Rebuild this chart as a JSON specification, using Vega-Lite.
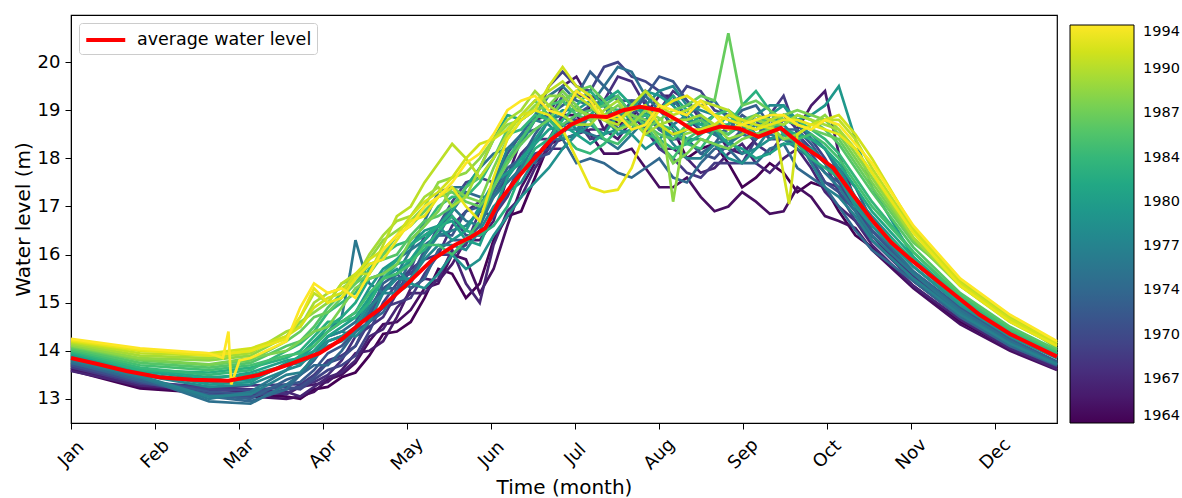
{
"$schema": "https://vega.github.io/schema/vega-lite/v6.json",
"width": 986, "height": 408,
"autosize": {"type": "none"},
"padding": {"left": 71, "top": 15, "right": 125, "bottom": 75},
"config": {"font": "DejaVu Sans", "view": {"stroke": "black", "strokeWidth": 1.2},
 "axis": {"grid": false, "domainColor": "black", "tickColor": "black", "labelColor": "black", "titleColor": "black", "tickSize": 6, "labelFontSize": 18, "titleFontSize": 20, "titleFontWeight": "normal"}},
"datasets": {
"years": [
{"yr":1964,"d":0,"h":13.60},{"yr":1964,"d":25,"h":13.22},{"yr":1964,"d":50,"h":13.12},{"yr":1964,"d":65,"h":13.10},{"yr":1964,"d":78,"h":13.05},{"yr":1964,"d":88,"h":13.20},{"yr":1964,"d":98,"h":13.45},{"yr":1964,"d":108,"h":13.90},{"yr":1964,"d":118,"h":14.40},{"yr":1964,"d":128,"h":15.10},{"yr":1964,"d":138,"h":15.60},{"yr":1964,"d":148,"h":15.40},{"yr":1964,"d":158,"h":16.80},{"yr":1964,"d":168,"h":17.60},{"yr":1964,"d":178,"h":18.40},{"yr":1964,"d":188,"h":19.10},{"yr":1964,"d":198,"h":18.70},{"yr":1964,"d":208,"h":19.40},{"yr":1964,"d":218,"h":18.60},{"yr":1964,"d":228,"h":18.20},{"yr":1964,"d":238,"h":17.90},{"yr":1964,"d":248,"h":17.60},{"yr":1964,"d":258,"h":17.70},{"yr":1964,"d":268,"h":17.50},{"yr":1964,"d":278,"h":16.90},{"yr":1964,"d":290,"h":16.15},{"yr":1964,"d":305,"h":15.35},{"yr":1964,"d":322,"h":14.60},{"yr":1964,"d":340,"h":14.05},{"yr":1964,"d":357,"h":13.62},
{"yr":1964,"d":83,"h":13.00},{"yr":1964,"d":93,"h":13.25},{"yr":1964,"d":103,"h":13.55},{"yr":1964,"d":113,"h":14.35},{"yr":1964,"d":123,"h":14.60},{"yr":1964,"d":133,"h":15.70},{"yr":1964,"d":143,"h":15.10},{"yr":1964,"d":153,"h":16.30},{"yr":1964,"d":163,"h":16.90},{"yr":1964,"d":173,"h":18.30},{"yr":1964,"d":183,"h":18.50},{"yr":1964,"d":193,"h":19.20},{"yr":1964,"d":203,"h":18.80},{"yr":1964,"d":213,"h":19.10},{"yr":1964,"d":223,"h":18.00},{"yr":1964,"d":233,"h":18.30},{"yr":1964,"d":243,"h":17.40},{"yr":1964,"d":253,"h":17.90},{"yr":1964,"d":263,"h":17.30},{"yr":1964,"d":273,"h":17.40},{"yr":1964,"d":284,"h":16.40},
{"yr":1965,"d":0,"h":13.62},{"yr":1965,"d":25,"h":13.25},{"yr":1965,"d":50,"h":13.15},{"yr":1965,"d":65,"h":13.05},{"yr":1965,"d":78,"h":13.00},{"yr":1965,"d":88,"h":13.15},{"yr":1965,"d":98,"h":13.50},{"yr":1965,"d":108,"h":14.20},{"yr":1965,"d":118,"h":14.60},{"yr":1965,"d":128,"h":15.30},{"yr":1965,"d":138,"h":16.00},{"yr":1965,"d":148,"h":15.20},{"yr":1965,"d":158,"h":16.60},{"yr":1965,"d":168,"h":17.90},{"yr":1965,"d":178,"h":18.90},{"yr":1965,"d":188,"h":18.50},{"yr":1965,"d":198,"h":18.10},{"yr":1965,"d":208,"h":17.80},{"yr":1965,"d":218,"h":17.40},{"yr":1965,"d":228,"h":17.20},{"yr":1965,"d":238,"h":17.00},{"yr":1965,"d":248,"h":17.10},{"yr":1965,"d":258,"h":16.90},{"yr":1965,"d":268,"h":17.20},{"yr":1965,"d":278,"h":16.70},{"yr":1965,"d":290,"h":16.10},{"yr":1965,"d":305,"h":15.30},{"yr":1965,"d":322,"h":14.55},{"yr":1965,"d":340,"h":14.00},{"yr":1965,"d":357,"h":13.60},
{"yr":1965,"d":83,"h":13.05},{"yr":1965,"d":93,"h":13.40},{"yr":1965,"d":103,"h":13.75},{"yr":1965,"d":113,"h":14.55},{"yr":1965,"d":123,"h":14.85},{"yr":1965,"d":133,"h":15.40},{"yr":1965,"d":143,"h":15.90},{"yr":1965,"d":153,"h":15.70},{"yr":1965,"d":163,"h":17.40},{"yr":1965,"d":173,"h":18.20},{"yr":1965,"d":183,"h":18.90},{"yr":1965,"d":193,"h":18.10},{"yr":1965,"d":203,"h":18.20},{"yr":1965,"d":213,"h":17.40},{"yr":1965,"d":223,"h":17.60},{"yr":1965,"d":233,"h":16.90},{"yr":1965,"d":243,"h":17.30},{"yr":1965,"d":253,"h":16.85},{"yr":1965,"d":263,"h":17.40},{"yr":1965,"d":273,"h":16.80},{"yr":1965,"d":284,"h":16.55},
{"yr":1966,"d":0,"h":13.65},{"yr":1966,"d":25,"h":13.30},{"yr":1966,"d":50,"h":13.20},{"yr":1966,"d":65,"h":13.15},{"yr":1966,"d":78,"h":13.10},{"yr":1966,"d":88,"h":13.30},{"yr":1966,"d":98,"h":13.60},{"yr":1966,"d":108,"h":14.00},{"yr":1966,"d":118,"h":14.70},{"yr":1966,"d":128,"h":15.50},{"yr":1966,"d":138,"h":15.80},{"yr":1966,"d":148,"h":16.30},{"yr":1966,"d":158,"h":17.60},{"yr":1966,"d":168,"h":18.80},{"yr":1966,"d":178,"h":19.50},{"yr":1966,"d":188,"h":19.20},{"yr":1966,"d":198,"h":18.40},{"yr":1966,"d":208,"h":18.90},{"yr":1966,"d":218,"h":19.30},{"yr":1966,"d":228,"h":18.60},{"yr":1966,"d":238,"h":18.20},{"yr":1966,"d":248,"h":18.40},{"yr":1966,"d":258,"h":18.90},{"yr":1966,"d":268,"h":19.10},{"yr":1966,"d":278,"h":18.10},{"yr":1966,"d":290,"h":16.40},{"yr":1966,"d":305,"h":15.45},{"yr":1966,"d":322,"h":14.70},{"yr":1966,"d":340,"h":14.10},{"yr":1966,"d":357,"h":13.65},
{"yr":1966,"d":83,"h":13.25},{"yr":1966,"d":93,"h":13.35},{"yr":1966,"d":103,"h":13.95},{"yr":1966,"d":113,"h":14.20},{"yr":1966,"d":123,"h":15.30},{"yr":1966,"d":133,"h":15.45},{"yr":1966,"d":143,"h":16.30},{"yr":1966,"d":153,"h":16.70},{"yr":1966,"d":163,"h":18.40},{"yr":1966,"d":173,"h":18.90},{"yr":1966,"d":183,"h":19.70},{"yr":1966,"d":193,"h":18.60},{"yr":1966,"d":203,"h":18.80},{"yr":1966,"d":213,"h":19.30},{"yr":1966,"d":223,"h":18.80},{"yr":1966,"d":233,"h":18.60},{"yr":1966,"d":243,"h":18.10},{"yr":1966,"d":253,"h":18.80},{"yr":1966,"d":263,"h":18.60},{"yr":1966,"d":273,"h":19.40},{"yr":1966,"d":284,"h":17.10},
{"yr":1967,"d":0,"h":13.58},{"yr":1967,"d":25,"h":13.28},{"yr":1967,"d":50,"h":13.18},{"yr":1967,"d":65,"h":13.20},{"yr":1967,"d":78,"h":13.15},{"yr":1967,"d":88,"h":13.25},{"yr":1967,"d":98,"h":13.55},{"yr":1967,"d":108,"h":14.30},{"yr":1967,"d":118,"h":14.90},{"yr":1967,"d":128,"h":15.20},{"yr":1967,"d":138,"h":16.10},{"yr":1967,"d":148,"h":15.00},{"yr":1967,"d":158,"h":16.90},{"yr":1967,"d":168,"h":17.80},{"yr":1967,"d":178,"h":18.20},{"yr":1967,"d":188,"h":18.60},{"yr":1967,"d":198,"h":19.00},{"yr":1967,"d":208,"h":18.60},{"yr":1967,"d":218,"h":18.20},{"yr":1967,"d":228,"h":17.70},{"yr":1967,"d":238,"h":18.10},{"yr":1967,"d":248,"h":17.90},{"yr":1967,"d":258,"h":18.00},{"yr":1967,"d":268,"h":17.80},{"yr":1967,"d":278,"h":17.00},{"yr":1967,"d":290,"h":16.20},{"yr":1967,"d":305,"h":15.35},{"yr":1967,"d":322,"h":14.65},{"yr":1967,"d":340,"h":14.05},{"yr":1967,"d":357,"h":13.62},
{"yr":1967,"d":83,"h":13.05},{"yr":1967,"d":93,"h":13.45},{"yr":1967,"d":103,"h":13.80},{"yr":1967,"d":113,"h":14.45},{"yr":1967,"d":123,"h":15.20},{"yr":1967,"d":133,"h":15.50},{"yr":1967,"d":143,"h":15.40},{"yr":1967,"d":153,"h":16.20},{"yr":1967,"d":163,"h":17.20},{"yr":1967,"d":173,"h":18.20},{"yr":1967,"d":183,"h":18.50},{"yr":1967,"d":193,"h":18.60},{"yr":1967,"d":203,"h":18.90},{"yr":1967,"d":213,"h":18.20},{"yr":1967,"d":223,"h":18.00},{"yr":1967,"d":233,"h":17.80},{"yr":1967,"d":243,"h":18.30},{"yr":1967,"d":253,"h":17.70},{"yr":1967,"d":263,"h":18.20},{"yr":1967,"d":273,"h":17.30},{"yr":1967,"d":284,"h":16.70},
{"yr":1968,"d":0,"h":13.70},{"yr":1968,"d":25,"h":13.35},{"yr":1968,"d":50,"h":13.25},{"yr":1968,"d":65,"h":13.20},{"yr":1968,"d":78,"h":13.10},{"yr":1968,"d":88,"h":13.35},{"yr":1968,"d":98,"h":13.80},{"yr":1968,"d":108,"h":14.50},{"yr":1968,"d":118,"h":15.20},{"yr":1968,"d":128,"h":15.90},{"yr":1968,"d":138,"h":16.60},{"yr":1968,"d":148,"h":17.10},{"yr":1968,"d":158,"h":17.60},{"yr":1968,"d":168,"h":18.40},{"yr":1968,"d":178,"h":18.90},{"yr":1968,"d":188,"h":19.30},{"yr":1968,"d":198,"h":19.70},{"yr":1968,"d":208,"h":19.10},{"yr":1968,"d":218,"h":19.40},{"yr":1968,"d":228,"h":18.80},{"yr":1968,"d":238,"h":18.60},{"yr":1968,"d":248,"h":18.30},{"yr":1968,"d":258,"h":18.50},{"yr":1968,"d":268,"h":18.00},{"yr":1968,"d":278,"h":17.40},{"yr":1968,"d":290,"h":16.40},{"yr":1968,"d":305,"h":15.55},{"yr":1968,"d":322,"h":14.80},{"yr":1968,"d":340,"h":14.15},{"yr":1968,"d":357,"h":13.70},
{"yr":1968,"d":83,"h":13.30},{"yr":1968,"d":93,"h":13.50},{"yr":1968,"d":103,"h":14.30},{"yr":1968,"d":113,"h":14.70},{"yr":1968,"d":123,"h":15.70},{"yr":1968,"d":133,"h":16.00},{"yr":1968,"d":143,"h":16.90},{"yr":1968,"d":153,"h":17.20},{"yr":1968,"d":163,"h":18.10},{"yr":1968,"d":173,"h":18.40},{"yr":1968,"d":183,"h":19.30},{"yr":1968,"d":193,"h":19.20},{"yr":1968,"d":203,"h":19.60},{"yr":1968,"d":213,"h":19.00},{"yr":1968,"d":223,"h":19.20},{"yr":1968,"d":233,"h":18.50},{"yr":1968,"d":243,"h":18.70},{"yr":1968,"d":253,"h":18.10},{"yr":1968,"d":263,"h":18.40},{"yr":1968,"d":273,"h":17.50},{"yr":1968,"d":284,"h":17.00},
{"yr":1969,"d":0,"h":13.66},{"yr":1969,"d":25,"h":13.32},{"yr":1969,"d":50,"h":13.22},{"yr":1969,"d":65,"h":13.28},{"yr":1969,"d":78,"h":13.30},{"yr":1969,"d":88,"h":13.50},{"yr":1969,"d":98,"h":13.90},{"yr":1969,"d":108,"h":14.60},{"yr":1969,"d":118,"h":15.00},{"yr":1969,"d":128,"h":15.60},{"yr":1969,"d":138,"h":16.00},{"yr":1969,"d":148,"h":16.90},{"yr":1969,"d":158,"h":17.20},{"yr":1969,"d":168,"h":18.10},{"yr":1969,"d":178,"h":18.70},{"yr":1969,"d":188,"h":18.40},{"yr":1969,"d":198,"h":19.00},{"yr":1969,"d":208,"h":18.70},{"yr":1969,"d":218,"h":18.00},{"yr":1969,"d":228,"h":17.60},{"yr":1969,"d":238,"h":17.90},{"yr":1969,"d":248,"h":18.40},{"yr":1969,"d":258,"h":19.30},{"yr":1969,"d":268,"h":18.20},{"yr":1969,"d":278,"h":17.30},{"yr":1969,"d":290,"h":16.30},{"yr":1969,"d":305,"h":15.45},{"yr":1969,"d":322,"h":14.75},{"yr":1969,"d":340,"h":14.10},{"yr":1969,"d":357,"h":13.68},
{"yr":1969,"d":83,"h":13.30},{"yr":1969,"d":93,"h":13.80},{"yr":1969,"d":103,"h":14.10},{"yr":1969,"d":113,"h":14.90},{"yr":1969,"d":123,"h":15.10},{"yr":1969,"d":133,"h":16.00},{"yr":1969,"d":143,"h":16.20},{"yr":1969,"d":153,"h":16.80},{"yr":1969,"d":163,"h":17.80},{"yr":1969,"d":173,"h":18.20},{"yr":1969,"d":183,"h":18.80},{"yr":1969,"d":193,"h":18.50},{"yr":1969,"d":203,"h":19.10},{"yr":1969,"d":213,"h":18.20},{"yr":1969,"d":223,"h":17.70},{"yr":1969,"d":233,"h":17.90},{"yr":1969,"d":243,"h":17.90},{"yr":1969,"d":253,"h":18.90},{"yr":1969,"d":263,"h":18.50},{"yr":1969,"d":273,"h":17.90},{"yr":1969,"d":284,"h":16.70},
{"yr":1970,"d":0,"h":13.72},{"yr":1970,"d":25,"h":13.38},{"yr":1970,"d":50,"h":13.20},{"yr":1970,"d":65,"h":13.18},{"yr":1970,"d":78,"h":13.25},{"yr":1970,"d":88,"h":13.40},{"yr":1970,"d":98,"h":13.70},{"yr":1970,"d":108,"h":14.40},{"yr":1970,"d":118,"h":15.40},{"yr":1970,"d":128,"h":16.40},{"yr":1970,"d":138,"h":17.10},{"yr":1970,"d":148,"h":17.60},{"yr":1970,"d":158,"h":17.90},{"yr":1970,"d":168,"h":18.80},{"yr":1970,"d":178,"h":19.80},{"yr":1970,"d":188,"h":19.40},{"yr":1970,"d":198,"h":20.00},{"yr":1970,"d":208,"h":19.60},{"yr":1970,"d":218,"h":19.10},{"yr":1970,"d":228,"h":19.40},{"yr":1970,"d":238,"h":18.90},{"yr":1970,"d":248,"h":18.50},{"yr":1970,"d":258,"h":18.80},{"yr":1970,"d":268,"h":18.40},{"yr":1970,"d":278,"h":17.50},{"yr":1970,"d":290,"h":16.50},{"yr":1970,"d":305,"h":15.60},{"yr":1970,"d":322,"h":14.85},{"yr":1970,"d":340,"h":14.20},{"yr":1970,"d":357,"h":13.72},
{"yr":1970,"d":83,"h":13.20},{"yr":1970,"d":93,"h":13.60},{"yr":1970,"d":103,"h":13.90},{"yr":1970,"d":113,"h":15.00},{"yr":1970,"d":123,"h":15.70},{"yr":1970,"d":133,"h":16.60},{"yr":1970,"d":143,"h":17.50},{"yr":1970,"d":153,"h":17.50},{"yr":1970,"d":163,"h":18.40},{"yr":1970,"d":173,"h":19.50},{"yr":1970,"d":183,"h":19.50},{"yr":1970,"d":193,"h":19.90},{"yr":1970,"d":203,"h":19.70},{"yr":1970,"d":213,"h":19.40},{"yr":1970,"d":223,"h":19.50},{"yr":1970,"d":233,"h":19.00},{"yr":1970,"d":243,"h":18.80},{"yr":1970,"d":253,"h":18.50},{"yr":1970,"d":263,"h":18.70},{"yr":1970,"d":273,"h":18.00},{"yr":1970,"d":284,"h":17.00},
{"yr":1971,"d":0,"h":13.70},{"yr":1971,"d":25,"h":13.35},{"yr":1971,"d":50,"h":13.10},{"yr":1971,"d":65,"h":13.05},{"yr":1971,"d":78,"h":13.20},{"yr":1971,"d":88,"h":13.45},{"yr":1971,"d":98,"h":13.85},{"yr":1971,"d":108,"h":14.70},{"yr":1971,"d":118,"h":15.50},{"yr":1971,"d":128,"h":16.00},{"yr":1971,"d":138,"h":16.80},{"yr":1971,"d":148,"h":16.40},{"yr":1971,"d":158,"h":17.30},{"yr":1971,"d":168,"h":18.00},{"yr":1971,"d":178,"h":18.50},{"yr":1971,"d":188,"h":19.10},{"yr":1971,"d":198,"h":18.80},{"yr":1971,"d":208,"h":19.20},{"yr":1971,"d":218,"h":18.40},{"yr":1971,"d":228,"h":18.10},{"yr":1971,"d":238,"h":18.30},{"yr":1971,"d":248,"h":18.80},{"yr":1971,"d":258,"h":18.40},{"yr":1971,"d":268,"h":18.00},{"yr":1971,"d":278,"h":17.30},{"yr":1971,"d":290,"h":16.30},{"yr":1971,"d":305,"h":15.50},{"yr":1971,"d":322,"h":14.80},{"yr":1971,"d":340,"h":14.15},{"yr":1971,"d":357,"h":13.70},
{"yr":1971,"d":83,"h":13.25},{"yr":1971,"d":93,"h":13.75},{"yr":1971,"d":103,"h":14.10},{"yr":1971,"d":113,"h":15.30},{"yr":1971,"d":123,"h":15.60},{"yr":1971,"d":133,"h":16.60},{"yr":1971,"d":143,"h":16.40},{"yr":1971,"d":153,"h":16.80},{"yr":1971,"d":163,"h":17.90},{"yr":1971,"d":173,"h":18.10},{"yr":1971,"d":183,"h":18.90},{"yr":1971,"d":193,"h":18.80},{"yr":1971,"d":203,"h":19.20},{"yr":1971,"d":213,"h":18.60},{"yr":1971,"d":223,"h":18.40},{"yr":1971,"d":233,"h":18.00},{"yr":1971,"d":243,"h":18.60},{"yr":1971,"d":253,"h":18.40},{"yr":1971,"d":263,"h":18.30},{"yr":1971,"d":273,"h":17.50},{"yr":1971,"d":284,"h":16.90},
{"yr":1972,"d":0,"h":13.74},{"yr":1972,"d":25,"h":13.40},{"yr":1972,"d":50,"h":13.15},{"yr":1972,"d":65,"h":13.10},{"yr":1972,"d":78,"h":13.30},{"yr":1972,"d":88,"h":13.60},{"yr":1972,"d":98,"h":14.10},{"yr":1972,"d":108,"h":14.90},{"yr":1972,"d":118,"h":15.30},{"yr":1972,"d":128,"h":16.10},{"yr":1972,"d":138,"h":16.40},{"yr":1972,"d":148,"h":17.00},{"yr":1972,"d":158,"h":18.10},{"yr":1972,"d":168,"h":18.60},{"yr":1972,"d":178,"h":19.30},{"yr":1972,"d":188,"h":19.00},{"yr":1972,"d":198,"h":18.60},{"yr":1972,"d":208,"h":19.30},{"yr":1972,"d":218,"h":19.60},{"yr":1972,"d":228,"h":18.90},{"yr":1972,"d":238,"h":18.60},{"yr":1972,"d":248,"h":18.70},{"yr":1972,"d":258,"h":18.50},{"yr":1972,"d":268,"h":18.10},{"yr":1972,"d":278,"h":17.50},{"yr":1972,"d":290,"h":16.50},{"yr":1972,"d":305,"h":15.65},{"yr":1972,"d":322,"h":14.90},{"yr":1972,"d":340,"h":14.25},{"yr":1972,"d":357,"h":13.75},
{"yr":1972,"d":83,"h":13.35},{"yr":1972,"d":93,"h":13.95},{"yr":1972,"d":103,"h":14.40},{"yr":1972,"d":113,"h":15.30},{"yr":1972,"d":123,"h":15.50},{"yr":1972,"d":133,"h":16.40},{"yr":1972,"d":143,"h":16.90},{"yr":1972,"d":153,"h":17.40},{"yr":1972,"d":163,"h":18.50},{"yr":1972,"d":173,"h":18.80},{"yr":1972,"d":183,"h":19.00},{"yr":1972,"d":193,"h":19.10},{"yr":1972,"d":203,"h":18.90},{"yr":1972,"d":213,"h":19.70},{"yr":1972,"d":223,"h":19.20},{"yr":1972,"d":233,"h":18.50},{"yr":1972,"d":243,"h":18.90},{"yr":1972,"d":253,"h":18.40},{"yr":1972,"d":263,"h":18.50},{"yr":1972,"d":273,"h":17.70},{"yr":1972,"d":284,"h":17.10},
{"yr":1973,"d":0,"h":13.76},{"yr":1973,"d":25,"h":13.38},{"yr":1973,"d":50,"h":13.08},{"yr":1973,"d":65,"h":13.00},{"yr":1973,"d":78,"h":13.40},{"yr":1973,"d":88,"h":13.80},{"yr":1973,"d":98,"h":14.30},{"yr":1973,"d":108,"h":14.80},{"yr":1973,"d":118,"h":15.60},{"yr":1973,"d":128,"h":15.50},{"yr":1973,"d":138,"h":16.30},{"yr":1973,"d":148,"h":16.60},{"yr":1973,"d":158,"h":17.80},{"yr":1973,"d":168,"h":18.50},{"yr":1973,"d":178,"h":19.10},{"yr":1973,"d":188,"h":19.80},{"yr":1973,"d":198,"h":19.20},{"yr":1973,"d":208,"h":18.90},{"yr":1973,"d":218,"h":18.50},{"yr":1973,"d":228,"h":18.10},{"yr":1973,"d":238,"h":18.70},{"yr":1973,"d":248,"h":19.10},{"yr":1973,"d":258,"h":18.60},{"yr":1973,"d":268,"h":18.30},{"yr":1973,"d":278,"h":17.80},{"yr":1973,"d":290,"h":16.70},{"yr":1973,"d":305,"h":15.75},{"yr":1973,"d":322,"h":14.95},{"yr":1973,"d":340,"h":14.25},{"yr":1973,"d":357,"h":13.78},
{"yr":1973,"d":83,"h":13.50},{"yr":1973,"d":93,"h":14.20},{"yr":1973,"d":103,"h":14.40},{"yr":1973,"d":113,"h":15.40},{"yr":1973,"d":123,"h":15.30},{"yr":1973,"d":133,"h":16.10},{"yr":1973,"d":143,"h":16.30},{"yr":1973,"d":153,"h":17.30},{"yr":1973,"d":163,"h":18.00},{"yr":1973,"d":173,"h":18.90},{"yr":1973,"d":183,"h":19.30},{"yr":1973,"d":193,"h":19.50},{"yr":1973,"d":203,"h":19.20},{"yr":1973,"d":213,"h":18.60},{"yr":1973,"d":223,"h":18.40},{"yr":1973,"d":233,"h":18.30},{"yr":1973,"d":243,"h":19.00},{"yr":1973,"d":253,"h":18.70},{"yr":1973,"d":263,"h":18.60},{"yr":1973,"d":273,"h":17.90},{"yr":1973,"d":284,"h":17.40},
{"yr":1974,"d":0,"h":13.75},{"yr":1974,"d":25,"h":13.42},{"yr":1974,"d":50,"h":13.05},{"yr":1974,"d":65,"h":12.95},{"yr":1974,"d":78,"h":13.20},{"yr":1974,"d":88,"h":13.70},{"yr":1974,"d":98,"h":14.00},{"yr":1974,"d":108,"h":14.60},{"yr":1974,"d":118,"h":15.30},{"yr":1974,"d":128,"h":16.20},{"yr":1974,"d":138,"h":16.90},{"yr":1974,"d":148,"h":17.20},{"yr":1974,"d":158,"h":17.70},{"yr":1974,"d":168,"h":17.90},{"yr":1974,"d":178,"h":18.40},{"yr":1974,"d":188,"h":18.00},{"yr":1974,"d":198,"h":17.70},{"yr":1974,"d":208,"h":17.80},{"yr":1974,"d":218,"h":17.60},{"yr":1974,"d":228,"h":17.90},{"yr":1974,"d":238,"h":18.20},{"yr":1974,"d":248,"h":17.90},{"yr":1974,"d":258,"h":18.30},{"yr":1974,"d":268,"h":17.60},{"yr":1974,"d":278,"h":17.00},{"yr":1974,"d":290,"h":16.10},{"yr":1974,"d":305,"h":15.45},{"yr":1974,"d":322,"h":14.70},{"yr":1974,"d":340,"h":14.10},{"yr":1974,"d":357,"h":13.70},
{"yr":1974,"d":83,"h":13.50},{"yr":1974,"d":93,"h":13.70},{"yr":1974,"d":103,"h":14.40},{"yr":1974,"d":113,"h":14.80},{"yr":1974,"d":123,"h":15.90},{"yr":1974,"d":133,"h":16.40},{"yr":1974,"d":143,"h":17.30},{"yr":1974,"d":153,"h":17.20},{"yr":1974,"d":163,"h":18.00},{"yr":1974,"d":173,"h":18.40},{"yr":1974,"d":183,"h":17.90},{"yr":1974,"d":193,"h":17.90},{"yr":1974,"d":203,"h":17.60},{"yr":1974,"d":213,"h":18.00},{"yr":1974,"d":223,"h":17.50},{"yr":1974,"d":233,"h":18.20},{"yr":1974,"d":243,"h":17.90},{"yr":1974,"d":253,"h":18.20},{"yr":1974,"d":263,"h":17.80},{"yr":1974,"d":273,"h":17.40},{"yr":1974,"d":284,"h":16.50},
{"yr":1975,"d":0,"h":13.78},{"yr":1975,"d":25,"h":13.45},{"yr":1975,"d":50,"h":12.95},{"yr":1975,"d":65,"h":12.90},{"yr":1975,"d":78,"h":13.30},{"yr":1975,"d":88,"h":13.90},{"yr":1975,"d":98,"h":14.40},{"yr":1975,"d":108,"h":15.10},{"yr":1975,"d":118,"h":15.90},{"yr":1975,"d":128,"h":16.70},{"yr":1975,"d":138,"h":17.40},{"yr":1975,"d":148,"h":17.80},{"yr":1975,"d":158,"h":18.20},{"yr":1975,"d":168,"h":18.90},{"yr":1975,"d":178,"h":19.50},{"yr":1975,"d":188,"h":19.10},{"yr":1975,"d":198,"h":19.90},{"yr":1975,"d":208,"h":19.30},{"yr":1975,"d":218,"h":18.70},{"yr":1975,"d":228,"h":19.10},{"yr":1975,"d":238,"h":18.80},{"yr":1975,"d":248,"h":18.40},{"yr":1975,"d":258,"h":18.90},{"yr":1975,"d":268,"h":18.40},{"yr":1975,"d":278,"h":17.70},{"yr":1975,"d":290,"h":16.60},{"yr":1975,"d":305,"h":15.65},{"yr":1975,"d":322,"h":14.85},{"yr":1975,"d":340,"h":14.20},{"yr":1975,"d":357,"h":13.75},
{"yr":1975,"d":83,"h":13.50},{"yr":1975,"d":93,"h":14.30},{"yr":1975,"d":103,"h":14.60},{"yr":1975,"d":113,"h":15.60},{"yr":1975,"d":123,"h":16.10},{"yr":1975,"d":133,"h":17.30},{"yr":1975,"d":143,"h":17.40},{"yr":1975,"d":153,"h":18.10},{"yr":1975,"d":163,"h":18.50},{"yr":1975,"d":173,"h":19.30},{"yr":1975,"d":183,"h":19.20},{"yr":1975,"d":193,"h":19.50},{"yr":1975,"d":203,"h":19.80},{"yr":1975,"d":213,"h":19.00},{"yr":1975,"d":223,"h":18.90},{"yr":1975,"d":233,"h":19.20},{"yr":1975,"d":243,"h":18.50},{"yr":1975,"d":253,"h":18.70},{"yr":1975,"d":263,"h":18.80},{"yr":1975,"d":273,"h":18.20},{"yr":1975,"d":284,"h":17.10},
{"yr":1976,"d":0,"h":13.80},{"yr":1976,"d":25,"h":13.45},{"yr":1976,"d":50,"h":13.00},{"yr":1976,"d":65,"h":13.15},{"yr":1976,"d":78,"h":13.60},{"yr":1976,"d":88,"h":14.20},{"yr":1976,"d":98,"h":14.70},{"yr":1976,"d":101,"h":15.60},{"yr":1976,"d":103,"h":16.30},{"yr":1976,"d":106,"h":15.70},{"yr":1976,"d":108,"h":15.40},{"yr":1976,"d":118,"h":15.60},{"yr":1976,"d":128,"h":16.30},{"yr":1976,"d":138,"h":17.00},{"yr":1976,"d":148,"h":16.60},{"yr":1976,"d":158,"h":17.50},{"yr":1976,"d":168,"h":18.30},{"yr":1976,"d":178,"h":18.90},{"yr":1976,"d":188,"h":18.50},{"yr":1976,"d":198,"h":18.20},{"yr":1976,"d":208,"h":18.80},{"yr":1976,"d":218,"h":19.20},{"yr":1976,"d":228,"h":18.60},{"yr":1976,"d":238,"h":18.30},{"yr":1976,"d":248,"h":18.70},{"yr":1976,"d":258,"h":18.40},{"yr":1976,"d":268,"h":18.00},{"yr":1976,"d":278,"h":17.40},{"yr":1976,"d":290,"h":16.40},{"yr":1976,"d":305,"h":15.60},{"yr":1976,"d":322,"h":14.80},{"yr":1976,"d":340,"h":14.15},{"yr":1976,"d":357,"h":13.72},
{"yr":1976,"d":83,"h":13.90},{"yr":1976,"d":93,"h":14.40},{"yr":1976,"d":113,"h":15.20},{"yr":1976,"d":123,"h":16.10},{"yr":1976,"d":133,"h":16.60},{"yr":1976,"d":143,"h":16.70},{"yr":1976,"d":153,"h":17.20},{"yr":1976,"d":163,"h":17.80},{"yr":1976,"d":173,"h":18.80},{"yr":1976,"d":183,"h":18.60},{"yr":1976,"d":193,"h":18.40},{"yr":1976,"d":203,"h":18.50},{"yr":1976,"d":213,"h":19.00},{"yr":1976,"d":223,"h":18.90},{"yr":1976,"d":233,"h":18.50},{"yr":1976,"d":243,"h":18.50},{"yr":1976,"d":253,"h":18.50},{"yr":1976,"d":263,"h":18.20},{"yr":1976,"d":273,"h":17.70},{"yr":1976,"d":284,"h":16.90},
{"yr":1977,"d":0,"h":13.82},{"yr":1977,"d":25,"h":13.48},{"yr":1977,"d":50,"h":13.05},{"yr":1977,"d":65,"h":13.10},{"yr":1977,"d":78,"h":13.50},{"yr":1977,"d":88,"h":13.85},{"yr":1977,"d":98,"h":14.20},{"yr":1977,"d":108,"h":14.90},{"yr":1977,"d":118,"h":15.20},{"yr":1977,"d":128,"h":16.00},{"yr":1977,"d":138,"h":16.50},{"yr":1977,"d":148,"h":16.90},{"yr":1977,"d":158,"h":18.20},{"yr":1977,"d":168,"h":18.80},{"yr":1977,"d":178,"h":18.40},{"yr":1977,"d":188,"h":18.90},{"yr":1977,"d":198,"h":19.30},{"yr":1977,"d":208,"h":18.80},{"yr":1977,"d":218,"h":18.30},{"yr":1977,"d":228,"h":18.00},{"yr":1977,"d":238,"h":18.40},{"yr":1977,"d":248,"h":18.20},{"yr":1977,"d":258,"h":18.70},{"yr":1977,"d":268,"h":17.90},{"yr":1977,"d":278,"h":17.20},{"yr":1977,"d":290,"h":16.30},{"yr":1977,"d":305,"h":15.50},{"yr":1977,"d":322,"h":14.75},{"yr":1977,"d":340,"h":14.15},{"yr":1977,"d":357,"h":13.72},
{"yr":1977,"d":83,"h":13.55},{"yr":1977,"d":93,"h":14.10},{"yr":1977,"d":103,"h":14.40},{"yr":1977,"d":113,"h":15.20},{"yr":1977,"d":123,"h":15.40},{"yr":1977,"d":133,"h":16.40},{"yr":1977,"d":143,"h":16.60},{"yr":1977,"d":153,"h":17.50},{"yr":1977,"d":163,"h":18.30},{"yr":1977,"d":173,"h":18.70},{"yr":1977,"d":183,"h":18.50},{"yr":1977,"d":193,"h":19.20},{"yr":1977,"d":203,"h":18.90},{"yr":1977,"d":213,"h":18.70},{"yr":1977,"d":223,"h":18.00},{"yr":1977,"d":233,"h":18.30},{"yr":1977,"d":243,"h":18.10},{"yr":1977,"d":253,"h":18.60},{"yr":1977,"d":263,"h":18.40},{"yr":1977,"d":273,"h":17.40},{"yr":1977,"d":284,"h":16.80},
{"yr":1978,"d":0,"h":13.85},{"yr":1978,"d":25,"h":13.50},{"yr":1978,"d":50,"h":13.25},{"yr":1978,"d":65,"h":13.30},{"yr":1978,"d":78,"h":13.60},{"yr":1978,"d":88,"h":14.00},{"yr":1978,"d":98,"h":14.40},{"yr":1978,"d":108,"h":14.60},{"yr":1978,"d":118,"h":15.50},{"yr":1978,"d":128,"h":15.90},{"yr":1978,"d":138,"h":16.20},{"yr":1978,"d":148,"h":16.50},{"yr":1978,"d":158,"h":17.30},{"yr":1978,"d":168,"h":18.00},{"yr":1978,"d":178,"h":18.60},{"yr":1978,"d":188,"h":18.90},{"yr":1978,"d":198,"h":18.50},{"yr":1978,"d":208,"h":19.10},{"yr":1978,"d":218,"h":19.50},{"yr":1978,"d":228,"h":19.00},{"yr":1978,"d":238,"h":18.60},{"yr":1978,"d":248,"h":18.90},{"yr":1978,"d":258,"h":19.10},{"yr":1978,"d":268,"h":18.50},{"yr":1978,"d":278,"h":17.80},{"yr":1978,"d":290,"h":16.80},{"yr":1978,"d":305,"h":15.85},{"yr":1978,"d":322,"h":15.00},{"yr":1978,"d":340,"h":14.30},{"yr":1978,"d":357,"h":13.85},
{"yr":1978,"d":83,"h":13.70},{"yr":1978,"d":93,"h":14.30},{"yr":1978,"d":103,"h":14.30},{"yr":1978,"d":113,"h":15.20},{"yr":1978,"d":123,"h":15.50},{"yr":1978,"d":133,"h":16.20},{"yr":1978,"d":143,"h":16.10},{"yr":1978,"d":153,"h":17.00},{"yr":1978,"d":163,"h":17.50},{"yr":1978,"d":173,"h":18.40},{"yr":1978,"d":183,"h":18.60},{"yr":1978,"d":193,"h":18.90},{"yr":1978,"d":203,"h":18.60},{"yr":1978,"d":213,"h":19.40},{"yr":1978,"d":223,"h":19.10},{"yr":1978,"d":233,"h":18.90},{"yr":1978,"d":243,"h":18.60},{"yr":1978,"d":253,"h":19.10},{"yr":1978,"d":263,"h":18.70},{"yr":1978,"d":273,"h":18.20},{"yr":1978,"d":284,"h":17.20},
{"yr":1979,"d":0,"h":13.88},{"yr":1979,"d":25,"h":13.52},{"yr":1979,"d":50,"h":13.35},{"yr":1979,"d":65,"h":13.40},{"yr":1979,"d":78,"h":13.70},{"yr":1979,"d":88,"h":13.90},{"yr":1979,"d":98,"h":14.30},{"yr":1979,"d":108,"h":15.00},{"yr":1979,"d":118,"h":15.70},{"yr":1979,"d":128,"h":15.30},{"yr":1979,"d":138,"h":16.00},{"yr":1979,"d":148,"h":15.90},{"yr":1979,"d":158,"h":16.80},{"yr":1979,"d":168,"h":17.50},{"yr":1979,"d":178,"h":18.20},{"yr":1979,"d":188,"h":18.70},{"yr":1979,"d":198,"h":18.60},{"yr":1979,"d":208,"h":18.20},{"yr":1979,"d":218,"h":18.70},{"yr":1979,"d":228,"h":18.40},{"yr":1979,"d":238,"h":18.00},{"yr":1979,"d":248,"h":18.20},{"yr":1979,"d":258,"h":18.50},{"yr":1979,"d":268,"h":18.20},{"yr":1979,"d":278,"h":17.60},{"yr":1979,"d":290,"h":16.60},{"yr":1979,"d":305,"h":15.75},{"yr":1979,"d":322,"h":14.95},{"yr":1979,"d":340,"h":14.30},{"yr":1979,"d":357,"h":13.85},
{"yr":1979,"d":83,"h":13.75},{"yr":1979,"d":93,"h":14.20},{"yr":1979,"d":103,"h":14.50},{"yr":1979,"d":113,"h":15.50},{"yr":1979,"d":123,"h":15.40},{"yr":1979,"d":133,"h":15.60},{"yr":1979,"d":143,"h":15.70},{"yr":1979,"d":153,"h":16.40},{"yr":1979,"d":163,"h":17.20},{"yr":1979,"d":173,"h":17.80},{"yr":1979,"d":183,"h":18.50},{"yr":1979,"d":193,"h":18.50},{"yr":1979,"d":203,"h":18.50},{"yr":1979,"d":213,"h":18.40},{"yr":1979,"d":223,"h":18.40},{"yr":1979,"d":233,"h":18.30},{"yr":1979,"d":243,"h":17.90},{"yr":1979,"d":253,"h":18.40},{"yr":1979,"d":263,"h":18.30},{"yr":1979,"d":273,"h":17.90},{"yr":1979,"d":284,"h":17.00},
{"yr":1980,"d":0,"h":13.90},{"yr":1980,"d":25,"h":13.55},{"yr":1980,"d":50,"h":13.30},{"yr":1980,"d":65,"h":13.35},{"yr":1980,"d":78,"h":13.75},{"yr":1980,"d":88,"h":14.10},{"yr":1980,"d":98,"h":14.60},{"yr":1980,"d":108,"h":15.30},{"yr":1980,"d":118,"h":15.90},{"yr":1980,"d":128,"h":16.50},{"yr":1980,"d":138,"h":16.30},{"yr":1980,"d":148,"h":17.00},{"yr":1980,"d":158,"h":17.70},{"yr":1980,"d":168,"h":18.40},{"yr":1980,"d":178,"h":19.00},{"yr":1980,"d":188,"h":19.20},{"yr":1980,"d":198,"h":18.80},{"yr":1980,"d":208,"h":19.40},{"yr":1980,"d":218,"h":19.10},{"yr":1980,"d":228,"h":18.70},{"yr":1980,"d":238,"h":19.00},{"yr":1980,"d":248,"h":18.60},{"yr":1980,"d":258,"h":19.10},{"yr":1980,"d":268,"h":18.90},{"yr":1980,"d":278,"h":19.50},{"yr":1980,"d":290,"h":17.40},{"yr":1980,"d":305,"h":15.95},{"yr":1980,"d":322,"h":15.05},{"yr":1980,"d":340,"h":14.35},{"yr":1980,"d":357,"h":13.88},
{"yr":1980,"d":83,"h":13.85},{"yr":1980,"d":93,"h":14.40},{"yr":1980,"d":103,"h":14.80},{"yr":1980,"d":113,"h":15.70},{"yr":1980,"d":123,"h":16.20},{"yr":1980,"d":133,"h":16.60},{"yr":1980,"d":143,"h":16.50},{"yr":1980,"d":153,"h":17.50},{"yr":1980,"d":163,"h":17.90},{"yr":1980,"d":173,"h":18.80},{"yr":1980,"d":183,"h":19.00},{"yr":1980,"d":193,"h":19.10},{"yr":1980,"d":203,"h":19.00},{"yr":1980,"d":213,"h":19.30},{"yr":1980,"d":223,"h":18.80},{"yr":1980,"d":233,"h":18.90},{"yr":1980,"d":243,"h":18.70},{"yr":1980,"d":253,"h":18.90},{"yr":1980,"d":263,"h":18.80},{"yr":1980,"d":273,"h":19.10},{"yr":1980,"d":284,"h":18.40},
{"yr":1981,"d":0,"h":13.92},{"yr":1981,"d":25,"h":13.58},{"yr":1981,"d":50,"h":13.40},{"yr":1981,"d":65,"h":13.55},{"yr":1981,"d":78,"h":13.80},{"yr":1981,"d":88,"h":14.00},{"yr":1981,"d":98,"h":14.50},{"yr":1981,"d":108,"h":15.10},{"yr":1981,"d":118,"h":15.60},{"yr":1981,"d":128,"h":16.30},{"yr":1981,"d":138,"h":16.70},{"yr":1981,"d":148,"h":16.20},{"yr":1981,"d":158,"h":17.60},{"yr":1981,"d":168,"h":18.30},{"yr":1981,"d":178,"h":18.70},{"yr":1981,"d":188,"h":18.30},{"yr":1981,"d":198,"h":18.90},{"yr":1981,"d":208,"h":19.00},{"yr":1981,"d":218,"h":18.40},{"yr":1981,"d":228,"h":18.90},{"yr":1981,"d":238,"h":18.30},{"yr":1981,"d":248,"h":18.00},{"yr":1981,"d":258,"h":18.30},{"yr":1981,"d":268,"h":18.20},{"yr":1981,"d":278,"h":17.70},{"yr":1981,"d":290,"h":16.70},{"yr":1981,"d":305,"h":15.85},{"yr":1981,"d":322,"h":15.00},{"yr":1981,"d":340,"h":14.35},{"yr":1981,"d":357,"h":13.90},
{"yr":1981,"d":83,"h":13.85},{"yr":1981,"d":93,"h":14.30},{"yr":1981,"d":103,"h":14.70},{"yr":1981,"d":113,"h":15.50},{"yr":1981,"d":123,"h":15.90},{"yr":1981,"d":133,"h":16.60},{"yr":1981,"d":143,"h":16.30},{"yr":1981,"d":153,"h":16.90},{"yr":1981,"d":163,"h":18.00},{"yr":1981,"d":173,"h":18.60},{"yr":1981,"d":183,"h":18.50},{"yr":1981,"d":193,"h":18.50},{"yr":1981,"d":203,"h":19.10},{"yr":1981,"d":213,"h":18.70},{"yr":1981,"d":223,"h":18.60},{"yr":1981,"d":233,"h":18.60},{"yr":1981,"d":243,"h":18.20},{"yr":1981,"d":253,"h":18.10},{"yr":1981,"d":263,"h":18.30},{"yr":1981,"d":273,"h":17.90},{"yr":1981,"d":284,"h":17.10},
{"yr":1982,"d":0,"h":13.95},{"yr":1982,"d":25,"h":13.62},{"yr":1982,"d":50,"h":13.45},{"yr":1982,"d":65,"h":13.50},{"yr":1982,"d":78,"h":13.70},{"yr":1982,"d":88,"h":14.20},{"yr":1982,"d":98,"h":14.70},{"yr":1982,"d":108,"h":15.50},{"yr":1982,"d":118,"h":15.90},{"yr":1982,"d":128,"h":16.40},{"yr":1982,"d":138,"h":16.90},{"yr":1982,"d":148,"h":17.80},{"yr":1982,"d":158,"h":18.90},{"yr":1982,"d":168,"h":19.00},{"yr":1982,"d":178,"h":18.60},{"yr":1982,"d":188,"h":18.90},{"yr":1982,"d":198,"h":19.40},{"yr":1982,"d":208,"h":18.90},{"yr":1982,"d":218,"h":19.30},{"yr":1982,"d":228,"h":18.70},{"yr":1982,"d":238,"h":18.50},{"yr":1982,"d":248,"h":18.80},{"yr":1982,"d":258,"h":18.60},{"yr":1982,"d":268,"h":18.40},{"yr":1982,"d":278,"h":17.90},{"yr":1982,"d":290,"h":16.90},{"yr":1982,"d":305,"h":15.95},{"yr":1982,"d":322,"h":15.05},{"yr":1982,"d":340,"h":14.40},{"yr":1982,"d":357,"h":13.92},
{"yr":1982,"d":83,"h":13.90},{"yr":1982,"d":93,"h":14.50},{"yr":1982,"d":103,"h":15.00},{"yr":1982,"d":113,"h":15.60},{"yr":1982,"d":123,"h":16.20},{"yr":1982,"d":133,"h":16.60},{"yr":1982,"d":143,"h":17.40},{"yr":1982,"d":153,"h":18.40},{"yr":1982,"d":163,"h":18.80},{"yr":1982,"d":173,"h":18.80},{"yr":1982,"d":183,"h":18.70},{"yr":1982,"d":193,"h":19.20},{"yr":1982,"d":203,"h":19.10},{"yr":1982,"d":213,"h":19.00},{"yr":1982,"d":223,"h":19.00},{"yr":1982,"d":233,"h":18.60},{"yr":1982,"d":243,"h":18.70},{"yr":1982,"d":253,"h":18.70},{"yr":1982,"d":263,"h":18.50},{"yr":1982,"d":273,"h":18.20},{"yr":1982,"d":284,"h":17.40},
{"yr":1983,"d":0,"h":13.97},{"yr":1983,"d":25,"h":13.60},{"yr":1983,"d":50,"h":13.55},{"yr":1983,"d":65,"h":13.65},{"yr":1983,"d":78,"h":13.85},{"yr":1983,"d":88,"h":14.30},{"yr":1983,"d":98,"h":14.60},{"yr":1983,"d":108,"h":15.00},{"yr":1983,"d":118,"h":15.80},{"yr":1983,"d":128,"h":16.10},{"yr":1983,"d":138,"h":16.80},{"yr":1983,"d":148,"h":16.40},{"yr":1983,"d":158,"h":17.00},{"yr":1983,"d":168,"h":18.20},{"yr":1983,"d":178,"h":18.80},{"yr":1983,"d":188,"h":19.40},{"yr":1983,"d":198,"h":19.00},{"yr":1983,"d":208,"h":18.50},{"yr":1983,"d":218,"h":18.20},{"yr":1983,"d":228,"h":18.50},{"yr":1983,"d":238,"h":18.70},{"yr":1983,"d":248,"h":19.40},{"yr":1983,"d":258,"h":18.50},{"yr":1983,"d":268,"h":18.00},{"yr":1983,"d":278,"h":17.60},{"yr":1983,"d":290,"h":16.70},{"yr":1983,"d":305,"h":15.90},{"yr":1983,"d":322,"h":15.05},{"yr":1983,"d":340,"h":14.40},{"yr":1983,"d":357,"h":13.95},
{"yr":1983,"d":83,"h":14.00},{"yr":1983,"d":93,"h":14.60},{"yr":1983,"d":103,"h":14.70},{"yr":1983,"d":113,"h":15.50},{"yr":1983,"d":123,"h":15.90},{"yr":1983,"d":133,"h":16.50},{"yr":1983,"d":143,"h":16.50},{"yr":1983,"d":153,"h":16.60},{"yr":1983,"d":163,"h":17.70},{"yr":1983,"d":173,"h":18.40},{"yr":1983,"d":183,"h":19.10},{"yr":1983,"d":193,"h":19.10},{"yr":1983,"d":203,"h":18.80},{"yr":1983,"d":213,"h":18.40},{"yr":1983,"d":223,"h":18.30},{"yr":1983,"d":233,"h":18.70},{"yr":1983,"d":243,"h":19.10},{"yr":1983,"d":253,"h":19.00},{"yr":1983,"d":263,"h":18.30},{"yr":1983,"d":273,"h":17.80},{"yr":1983,"d":284,"h":17.20},
{"yr":1984,"d":0,"h":14.00},{"yr":1984,"d":25,"h":13.65},{"yr":1984,"d":50,"h":13.50},{"yr":1984,"d":65,"h":13.60},{"yr":1984,"d":78,"h":14.00},{"yr":1984,"d":88,"h":14.40},{"yr":1984,"d":98,"h":15.00},{"yr":1984,"d":108,"h":15.70},{"yr":1984,"d":118,"h":16.20},{"yr":1984,"d":128,"h":16.60},{"yr":1984,"d":138,"h":17.20},{"yr":1984,"d":148,"h":17.50},{"yr":1984,"d":158,"h":18.50},{"yr":1984,"d":168,"h":18.90},{"yr":1984,"d":178,"h":18.50},{"yr":1984,"d":188,"h":18.10},{"yr":1984,"d":198,"h":18.60},{"yr":1984,"d":208,"h":18.90},{"yr":1984,"d":218,"h":18.60},{"yr":1984,"d":228,"h":18.20},{"yr":1984,"d":238,"h":18.90},{"yr":1984,"d":248,"h":18.50},{"yr":1984,"d":258,"h":18.90},{"yr":1984,"d":268,"h":18.60},{"yr":1984,"d":278,"h":18.10},{"yr":1984,"d":290,"h":17.10},{"yr":1984,"d":305,"h":16.05},{"yr":1984,"d":322,"h":15.10},{"yr":1984,"d":340,"h":14.40},{"yr":1984,"d":357,"h":13.95},
{"yr":1984,"d":83,"h":14.15},{"yr":1984,"d":93,"h":14.80},{"yr":1984,"d":103,"h":15.20},{"yr":1984,"d":113,"h":16.00},{"yr":1984,"d":123,"h":16.30},{"yr":1984,"d":133,"h":17.00},{"yr":1984,"d":143,"h":17.20},{"yr":1984,"d":153,"h":18.00},{"yr":1984,"d":163,"h":18.60},{"yr":1984,"d":173,"h":18.80},{"yr":1984,"d":183,"h":18.20},{"yr":1984,"d":193,"h":18.30},{"yr":1984,"d":203,"h":18.80},{"yr":1984,"d":213,"h":18.70},{"yr":1984,"d":223,"h":18.30},{"yr":1984,"d":233,"h":18.60},{"yr":1984,"d":243,"h":18.70},{"yr":1984,"d":253,"h":18.60},{"yr":1984,"d":263,"h":18.80},{"yr":1984,"d":273,"h":18.40},{"yr":1984,"d":284,"h":17.60},
{"yr":1985,"d":0,"h":14.02},{"yr":1985,"d":25,"h":13.70},{"yr":1985,"d":50,"h":13.60},{"yr":1985,"d":65,"h":13.70},{"yr":1985,"d":78,"h":13.90},{"yr":1985,"d":88,"h":14.10},{"yr":1985,"d":98,"h":14.60},{"yr":1985,"d":108,"h":15.20},{"yr":1985,"d":118,"h":15.60},{"yr":1985,"d":128,"h":16.20},{"yr":1985,"d":138,"h":16.00},{"yr":1985,"d":148,"h":16.70},{"yr":1985,"d":158,"h":18.00},{"yr":1985,"d":168,"h":18.80},{"yr":1985,"d":178,"h":19.20},{"yr":1985,"d":188,"h":18.80},{"yr":1985,"d":198,"h":18.30},{"yr":1985,"d":208,"h":18.70},{"yr":1985,"d":218,"h":18.00},{"yr":1985,"d":228,"h":18.60},{"yr":1985,"d":238,"h":19.00},{"yr":1985,"d":248,"h":18.70},{"yr":1985,"d":258,"h":18.40},{"yr":1985,"d":268,"h":18.50},{"yr":1985,"d":278,"h":18.00},{"yr":1985,"d":290,"h":17.00},{"yr":1985,"d":305,"h":16.05},{"yr":1985,"d":322,"h":15.15},{"yr":1985,"d":340,"h":14.45},{"yr":1985,"d":357,"h":14.00},
{"yr":1985,"d":83,"h":13.95},{"yr":1985,"d":93,"h":14.40},{"yr":1985,"d":103,"h":14.80},{"yr":1985,"d":113,"h":15.50},{"yr":1985,"d":123,"h":15.80},{"yr":1985,"d":133,"h":16.20},{"yr":1985,"d":143,"h":16.30},{"yr":1985,"d":153,"h":17.40},{"yr":1985,"d":163,"h":18.40},{"yr":1985,"d":173,"h":19.10},{"yr":1985,"d":183,"h":18.90},{"yr":1985,"d":193,"h":18.40},{"yr":1985,"d":203,"h":18.60},{"yr":1985,"d":213,"h":18.30},{"yr":1985,"d":223,"h":18.40},{"yr":1985,"d":233,"h":18.90},{"yr":1985,"d":243,"h":18.80},{"yr":1985,"d":253,"h":18.60},{"yr":1985,"d":263,"h":18.40},{"yr":1985,"d":273,"h":18.30},{"yr":1985,"d":284,"h":17.50},
{"yr":1986,"d":0,"h":14.05},{"yr":1986,"d":25,"h":13.75},{"yr":1986,"d":50,"h":13.65},{"yr":1986,"d":65,"h":13.75},{"yr":1986,"d":78,"h":14.10},{"yr":1986,"d":88,"h":14.50},{"yr":1986,"d":98,"h":15.20},{"yr":1986,"d":108,"h":15.80},{"yr":1986,"d":118,"h":16.00},{"yr":1986,"d":128,"h":16.70},{"yr":1986,"d":138,"h":17.00},{"yr":1986,"d":148,"h":17.60},{"yr":1986,"d":158,"h":18.60},{"yr":1986,"d":168,"h":19.20},{"yr":1986,"d":178,"h":18.70},{"yr":1986,"d":188,"h":19.00},{"yr":1986,"d":198,"h":19.30},{"yr":1986,"d":208,"h":18.70},{"yr":1986,"d":218,"h":18.40},{"yr":1986,"d":228,"h":18.80},{"yr":1986,"d":238,"h":18.50},{"yr":1986,"d":248,"h":18.90},{"yr":1986,"d":258,"h":18.70},{"yr":1986,"d":268,"h":18.80},{"yr":1986,"d":278,"h":18.30},{"yr":1986,"d":290,"h":17.30},{"yr":1986,"d":305,"h":16.15},{"yr":1986,"d":322,"h":15.20},{"yr":1986,"d":340,"h":14.50},{"yr":1986,"d":357,"h":14.02},
{"yr":1986,"d":83,"h":14.20},{"yr":1986,"d":93,"h":14.90},{"yr":1986,"d":103,"h":15.40},{"yr":1986,"d":113,"h":15.90},{"yr":1986,"d":123,"h":16.40},{"yr":1986,"d":133,"h":16.80},{"yr":1986,"d":143,"h":17.40},{"yr":1986,"d":153,"h":18.00},{"yr":1986,"d":163,"h":18.90},{"yr":1986,"d":173,"h":18.90},{"yr":1986,"d":183,"h":18.90},{"yr":1986,"d":193,"h":19.10},{"yr":1986,"d":203,"h":18.90},{"yr":1986,"d":213,"h":18.50},{"yr":1986,"d":223,"h":18.70},{"yr":1986,"d":233,"h":18.60},{"yr":1986,"d":243,"h":18.80},{"yr":1986,"d":253,"h":18.70},{"yr":1986,"d":263,"h":18.90},{"yr":1986,"d":273,"h":18.60},{"yr":1986,"d":284,"h":17.80},
{"yr":1987,"d":0,"h":14.08},{"yr":1987,"d":25,"h":13.80},{"yr":1987,"d":50,"h":13.70},{"yr":1987,"d":65,"h":13.80},{"yr":1987,"d":78,"h":14.20},{"yr":1987,"d":88,"h":14.70},{"yr":1987,"d":98,"h":15.10},{"yr":1987,"d":108,"h":15.60},{"yr":1987,"d":118,"h":16.40},{"yr":1987,"d":128,"h":16.90},{"yr":1987,"d":138,"h":17.30},{"yr":1987,"d":148,"h":17.00},{"yr":1987,"d":158,"h":17.90},{"yr":1987,"d":168,"h":18.60},{"yr":1987,"d":178,"h":19.20},{"yr":1987,"d":188,"h":19.50},{"yr":1987,"d":198,"h":18.90},{"yr":1987,"d":208,"h":18.60},{"yr":1987,"d":218,"h":19.00},{"yr":1987,"d":228,"h":19.30},{"yr":1987,"d":233,"h":19.20},{"yr":1987,"d":238,"h":20.60},{"yr":1987,"d":243,"h":19.10},{"yr":1987,"d":248,"h":19.20},{"yr":1987,"d":258,"h":18.80},{"yr":1987,"d":268,"h":18.60},{"yr":1987,"d":278,"h":18.40},{"yr":1987,"d":290,"h":17.40},{"yr":1987,"d":305,"h":16.25},{"yr":1987,"d":322,"h":15.45},{"yr":1987,"d":340,"h":14.70},{"yr":1987,"d":357,"h":14.05},
{"yr":1987,"d":83,"h":14.40},{"yr":1987,"d":93,"h":14.80},{"yr":1987,"d":103,"h":15.40},{"yr":1987,"d":113,"h":16.00},{"yr":1987,"d":123,"h":16.60},{"yr":1987,"d":133,"h":17.20},{"yr":1987,"d":143,"h":17.10},{"yr":1987,"d":153,"h":17.40},{"yr":1987,"d":163,"h":18.30},{"yr":1987,"d":173,"h":18.80},{"yr":1987,"d":183,"h":19.40},{"yr":1987,"d":193,"h":19.20},{"yr":1987,"d":203,"h":18.70},{"yr":1987,"d":213,"h":18.80},{"yr":1987,"d":223,"h":19.10},{"yr":1987,"d":253,"h":19.00},{"yr":1987,"d":263,"h":18.70},{"yr":1987,"d":273,"h":18.50},{"yr":1987,"d":284,"h":17.90},
{"yr":1988,"d":0,"h":14.10},{"yr":1988,"d":25,"h":13.82},{"yr":1988,"d":50,"h":13.72},{"yr":1988,"d":65,"h":13.85},{"yr":1988,"d":78,"h":14.00},{"yr":1988,"d":88,"h":14.40},{"yr":1988,"d":98,"h":14.90},{"yr":1988,"d":108,"h":15.50},{"yr":1988,"d":118,"h":15.80},{"yr":1988,"d":128,"h":16.60},{"yr":1988,"d":138,"h":17.40},{"yr":1988,"d":148,"h":17.10},{"yr":1988,"d":158,"h":18.40},{"yr":1988,"d":168,"h":19.00},{"yr":1988,"d":178,"h":19.40},{"yr":1988,"d":188,"h":18.80},{"yr":1988,"d":198,"h":19.10},{"yr":1988,"d":208,"h":18.80},{"yr":1988,"d":218,"h":17.90},{"yr":1988,"d":228,"h":18.40},{"yr":1988,"d":238,"h":18.20},{"yr":1988,"d":248,"h":18.50},{"yr":1988,"d":258,"h":18.90},{"yr":1988,"d":268,"h":18.90},{"yr":1988,"d":278,"h":18.50},{"yr":1988,"d":290,"h":17.50},{"yr":1988,"d":305,"h":16.30},{"yr":1988,"d":322,"h":15.35},{"yr":1988,"d":340,"h":14.60},{"yr":1988,"d":357,"h":14.10},
{"yr":1988,"d":83,"h":14.20},{"yr":1988,"d":93,"h":14.50},{"yr":1988,"d":103,"h":15.30},{"yr":1988,"d":113,"h":15.60},{"yr":1988,"d":123,"h":16.30},{"yr":1988,"d":133,"h":16.90},{"yr":1988,"d":143,"h":17.20},{"yr":1988,"d":153,"h":17.80},{"yr":1988,"d":163,"h":18.80},{"yr":1988,"d":173,"h":19.10},{"yr":1988,"d":183,"h":19.10},{"yr":1988,"d":193,"h":18.90},{"yr":1988,"d":203,"h":18.90},{"yr":1988,"d":213,"h":18.40},{"yr":1988,"d":223,"h":18.10},{"yr":1988,"d":233,"h":18.30},{"yr":1988,"d":243,"h":18.40},{"yr":1988,"d":253,"h":18.60},{"yr":1988,"d":263,"h":19.00},{"yr":1988,"d":273,"h":18.80},{"yr":1988,"d":284,"h":18.00},
{"yr":1989,"d":0,"h":14.12},{"yr":1989,"d":25,"h":13.85},{"yr":1989,"d":50,"h":13.80},{"yr":1989,"d":65,"h":13.90},{"yr":1989,"d":78,"h":14.30},{"yr":1989,"d":88,"h":14.80},{"yr":1989,"d":98,"h":15.40},{"yr":1989,"d":108,"h":15.90},{"yr":1989,"d":118,"h":16.50},{"yr":1989,"d":128,"h":17.00},{"yr":1989,"d":138,"h":17.60},{"yr":1989,"d":148,"h":18.00},{"yr":1989,"d":158,"h":18.70},{"yr":1989,"d":168,"h":19.10},{"yr":1989,"d":178,"h":19.30},{"yr":1989,"d":188,"h":18.90},{"yr":1989,"d":198,"h":18.60},{"yr":1989,"d":208,"h":19.00},{"yr":1989,"d":214,"h":18.80},{"yr":1989,"d":218,"h":17.10},{"yr":1989,"d":222,"h":18.50},{"yr":1989,"d":228,"h":18.60},{"yr":1989,"d":238,"h":18.40},{"yr":1989,"d":248,"h":18.80},{"yr":1989,"d":258,"h":18.40},{"yr":1989,"d":268,"h":18.70},{"yr":1989,"d":278,"h":18.60},{"yr":1989,"d":290,"h":17.60},{"yr":1989,"d":305,"h":16.35},{"yr":1989,"d":322,"h":15.40},{"yr":1989,"d":340,"h":14.70},{"yr":1989,"d":357,"h":14.15},
{"yr":1989,"d":83,"h":14.60},{"yr":1989,"d":93,"h":15.00},{"yr":1989,"d":103,"h":15.50},{"yr":1989,"d":113,"h":16.30},{"yr":1989,"d":123,"h":16.70},{"yr":1989,"d":133,"h":17.50},{"yr":1989,"d":143,"h":17.70},{"yr":1989,"d":153,"h":18.40},{"yr":1989,"d":163,"h":18.80},{"yr":1989,"d":173,"h":19.30},{"yr":1989,"d":183,"h":19.00},{"yr":1989,"d":193,"h":18.80},{"yr":1989,"d":203,"h":18.70},{"yr":1989,"d":233,"h":18.70},{"yr":1989,"d":243,"h":18.50},{"yr":1989,"d":253,"h":18.70},{"yr":1989,"d":263,"h":18.50},{"yr":1989,"d":273,"h":18.90},{"yr":1989,"d":284,"h":18.10},
{"yr":1990,"d":0,"h":14.15},{"yr":1990,"d":25,"h":13.90},{"yr":1990,"d":50,"h":13.85},{"yr":1990,"d":65,"h":13.95},{"yr":1990,"d":78,"h":14.40},{"yr":1990,"d":88,"h":15.00},{"yr":1990,"d":98,"h":15.30},{"yr":1990,"d":108,"h":16.00},{"yr":1990,"d":118,"h":16.70},{"yr":1990,"d":128,"h":17.20},{"yr":1990,"d":138,"h":17.00},{"yr":1990,"d":148,"h":17.80},{"yr":1990,"d":158,"h":18.80},{"yr":1990,"d":168,"h":19.40},{"yr":1990,"d":178,"h":18.90},{"yr":1990,"d":188,"h":18.70},{"yr":1990,"d":198,"h":19.20},{"yr":1990,"d":208,"h":18.50},{"yr":1990,"d":218,"h":18.80},{"yr":1990,"d":228,"h":18.90},{"yr":1990,"d":238,"h":18.60},{"yr":1990,"d":248,"h":18.90},{"yr":1990,"d":258,"h":18.70},{"yr":1990,"d":268,"h":18.80},{"yr":1990,"d":278,"h":18.60},{"yr":1990,"d":290,"h":17.70},{"yr":1990,"d":305,"h":16.35},{"yr":1990,"d":322,"h":15.35},{"yr":1990,"d":340,"h":14.65},{"yr":1990,"d":357,"h":14.15},
{"yr":1990,"d":83,"h":14.50},{"yr":1990,"d":93,"h":15.20},{"yr":1990,"d":103,"h":15.50},{"yr":1990,"d":113,"h":16.40},{"yr":1990,"d":123,"h":16.80},{"yr":1990,"d":133,"h":17.40},{"yr":1990,"d":143,"h":17.20},{"yr":1990,"d":153,"h":18.40},{"yr":1990,"d":163,"h":19.00},{"yr":1990,"d":173,"h":19.10},{"yr":1990,"d":183,"h":18.70},{"yr":1990,"d":193,"h":19.00},{"yr":1990,"d":203,"h":18.80},{"yr":1990,"d":213,"h":18.70},{"yr":1990,"d":223,"h":18.80},{"yr":1990,"d":233,"h":18.70},{"yr":1990,"d":243,"h":18.70},{"yr":1990,"d":253,"h":18.80},{"yr":1990,"d":263,"h":18.90},{"yr":1990,"d":273,"h":18.70},{"yr":1990,"d":284,"h":18.20},
{"yr":1991,"d":0,"h":14.18},{"yr":1991,"d":25,"h":13.95},{"yr":1991,"d":50,"h":13.90},{"yr":1991,"d":65,"h":14.00},{"yr":1991,"d":78,"h":14.30},{"yr":1991,"d":88,"h":15.20},{"yr":1991,"d":98,"h":15.40},{"yr":1991,"d":108,"h":15.60},{"yr":1991,"d":118,"h":16.80},{"yr":1991,"d":128,"h":17.50},{"yr":1991,"d":138,"h":18.30},{"yr":1991,"d":148,"h":17.60},{"yr":1991,"d":158,"h":18.50},{"yr":1991,"d":168,"h":19.20},{"yr":1991,"d":178,"h":19.60},{"yr":1991,"d":188,"h":19.10},{"yr":1991,"d":198,"h":18.70},{"yr":1991,"d":208,"h":19.40},{"yr":1991,"d":218,"h":18.90},{"yr":1991,"d":228,"h":19.20},{"yr":1991,"d":238,"h":19.00},{"yr":1991,"d":248,"h":18.60},{"yr":1991,"d":258,"h":18.90},{"yr":1991,"d":268,"h":18.60},{"yr":1991,"d":278,"h":18.80},{"yr":1991,"d":290,"h":17.80},{"yr":1991,"d":305,"h":16.50},{"yr":1991,"d":322,"h":15.45},{"yr":1991,"d":340,"h":14.70},{"yr":1991,"d":357,"h":14.18},
{"yr":1991,"d":83,"h":14.70},{"yr":1991,"d":93,"h":15.00},{"yr":1991,"d":103,"h":15.60},{"yr":1991,"d":113,"h":16.20},{"yr":1991,"d":123,"h":17.00},{"yr":1991,"d":133,"h":17.90},{"yr":1991,"d":143,"h":18.00},{"yr":1991,"d":153,"h":18.00},{"yr":1991,"d":163,"h":18.90},{"yr":1991,"d":173,"h":19.40},{"yr":1991,"d":183,"h":19.30},{"yr":1991,"d":193,"h":18.80},{"yr":1991,"d":203,"h":19.10},{"yr":1991,"d":213,"h":19.10},{"yr":1991,"d":223,"h":19.00},{"yr":1991,"d":233,"h":19.10},{"yr":1991,"d":243,"h":18.70},{"yr":1991,"d":253,"h":18.80},{"yr":1991,"d":263,"h":18.70},{"yr":1991,"d":273,"h":18.80},{"yr":1991,"d":284,"h":18.40},
{"yr":1992,"d":0,"h":14.20},{"yr":1992,"d":25,"h":14.00},{"yr":1992,"d":50,"h":13.95},{"yr":1992,"d":65,"h":14.05},{"yr":1992,"d":78,"h":14.30},{"yr":1992,"d":88,"h":14.90},{"yr":1992,"d":98,"h":15.20},{"yr":1992,"d":108,"h":15.90},{"yr":1992,"d":118,"h":16.40},{"yr":1992,"d":128,"h":17.10},{"yr":1992,"d":138,"h":17.60},{"yr":1992,"d":148,"h":18.30},{"yr":1992,"d":158,"h":18.60},{"yr":1992,"d":168,"h":19.00},{"yr":1992,"d":178,"h":19.90},{"yr":1992,"d":188,"h":19.30},{"yr":1992,"d":198,"h":18.80},{"yr":1992,"d":208,"h":19.10},{"yr":1992,"d":218,"h":18.50},{"yr":1992,"d":228,"h":18.60},{"yr":1992,"d":238,"h":18.90},{"yr":1992,"d":248,"h":18.70},{"yr":1992,"d":255,"h":18.60},{"yr":1992,"d":260,"h":17.05},{"yr":1992,"d":263,"h":18.50},{"yr":1992,"d":268,"h":18.70},{"yr":1992,"d":278,"h":18.90},{"yr":1992,"d":290,"h":18.00},{"yr":1992,"d":305,"h":16.55},{"yr":1992,"d":322,"h":15.40},{"yr":1992,"d":340,"h":14.65},{"yr":1992,"d":357,"h":14.15},
{"yr":1992,"d":83,"h":14.50},{"yr":1992,"d":93,"h":15.10},{"yr":1992,"d":103,"h":15.60},{"yr":1992,"d":113,"h":16.10},{"yr":1992,"d":123,"h":16.80},{"yr":1992,"d":133,"h":17.30},{"yr":1992,"d":143,"h":18.00},{"yr":1992,"d":153,"h":18.40},{"yr":1992,"d":163,"h":18.90},{"yr":1992,"d":173,"h":19.50},{"yr":1992,"d":183,"h":19.50},{"yr":1992,"d":193,"h":18.90},{"yr":1992,"d":203,"h":19.00},{"yr":1992,"d":213,"h":18.70},{"yr":1992,"d":223,"h":18.60},{"yr":1992,"d":233,"h":18.70},{"yr":1992,"d":243,"h":18.80},{"yr":1992,"d":273,"h":18.80},{"yr":1992,"d":284,"h":18.50},
{"yr":1993,"d":0,"h":14.22},{"yr":1993,"d":25,"h":14.02},{"yr":1993,"d":50,"h":13.90},{"yr":1993,"d":65,"h":14.00},{"yr":1993,"d":78,"h":14.25},{"yr":1993,"d":88,"h":15.30},{"yr":1993,"d":98,"h":15.10},{"yr":1993,"d":108,"h":15.80},{"yr":1993,"d":118,"h":16.30},{"yr":1993,"d":128,"h":16.80},{"yr":1993,"d":138,"h":17.40},{"yr":1993,"d":148,"h":16.70},{"yr":1993,"d":158,"h":18.40},{"yr":1993,"d":168,"h":19.00},{"yr":1993,"d":178,"h":18.60},{"yr":1993,"d":188,"h":17.40},{"yr":1993,"d":198,"h":17.35},{"yr":1993,"d":208,"h":18.60},{"yr":1993,"d":218,"h":19.20},{"yr":1993,"d":228,"h":19.10},{"yr":1993,"d":238,"h":18.80},{"yr":1993,"d":248,"h":18.60},{"yr":1993,"d":258,"h":18.80},{"yr":1993,"d":268,"h":18.70},{"yr":1993,"d":278,"h":18.50},{"yr":1993,"d":290,"h":17.70},{"yr":1993,"d":305,"h":16.45},{"yr":1993,"d":322,"h":15.35},{"yr":1993,"d":340,"h":14.60},{"yr":1993,"d":357,"h":14.10},
{"yr":1993,"d":83,"h":14.70},{"yr":1993,"d":93,"h":15.00},{"yr":1993,"d":103,"h":15.50},{"yr":1993,"d":113,"h":15.90},{"yr":1993,"d":123,"h":16.70},{"yr":1993,"d":133,"h":17.20},{"yr":1993,"d":143,"h":17.00},{"yr":1993,"d":153,"h":17.60},{"yr":1993,"d":163,"h":18.80},{"yr":1993,"d":173,"h":18.90},{"yr":1993,"d":183,"h":18.00},{"yr":1993,"d":193,"h":17.30},{"yr":1993,"d":203,"h":17.80},{"yr":1993,"d":213,"h":19.00},{"yr":1993,"d":223,"h":19.30},{"yr":1993,"d":233,"h":18.90},{"yr":1993,"d":243,"h":18.70},{"yr":1993,"d":253,"h":18.70},{"yr":1993,"d":263,"h":18.80},{"yr":1993,"d":273,"h":18.60},{"yr":1993,"d":284,"h":18.20},
{"yr":1994,"d":0,"h":14.25},{"yr":1994,"d":25,"h":14.05},{"yr":1994,"d":50,"h":13.95},{"yr":1994,"d":55,"h":13.85},{"yr":1994,"d":57,"h":14.40},{"yr":1994,"d":58,"h":13.30},{"yr":1994,"d":61,"h":13.80},{"yr":1994,"d":65,"h":13.85},{"yr":1994,"d":78,"h":14.20},{"yr":1994,"d":88,"h":15.40},{"yr":1994,"d":98,"h":15.30},{"yr":1994,"d":108,"h":15.60},{"yr":1994,"d":118,"h":16.40},{"yr":1994,"d":128,"h":17.00},{"yr":1994,"d":138,"h":17.50},{"yr":1994,"d":148,"h":18.10},{"yr":1994,"d":158,"h":19.00},{"yr":1994,"d":168,"h":19.30},{"yr":1994,"d":178,"h":18.90},{"yr":1994,"d":188,"h":19.20},{"yr":1994,"d":198,"h":18.90},{"yr":1994,"d":208,"h":18.70},{"yr":1994,"d":218,"h":19.00},{"yr":1994,"d":228,"h":19.20},{"yr":1994,"d":238,"h":18.60},{"yr":1994,"d":248,"h":18.80},{"yr":1994,"d":258,"h":18.90},{"yr":1994,"d":268,"h":18.60},{"yr":1994,"d":278,"h":18.70},{"yr":1994,"d":290,"h":17.90},{"yr":1994,"d":305,"h":16.60},{"yr":1994,"d":322,"h":15.50},{"yr":1994,"d":340,"h":14.75},{"yr":1994,"d":357,"h":14.20},
{"yr":1994,"d":83,"h":14.90},{"yr":1994,"d":93,"h":15.20},{"yr":1994,"d":103,"h":15.10},{"yr":1994,"d":113,"h":16.10},{"yr":1994,"d":123,"h":16.60},{"yr":1994,"d":133,"h":17.20},{"yr":1994,"d":143,"h":17.90},{"yr":1994,"d":153,"h":18.50},{"yr":1994,"d":163,"h":19.20},{"yr":1994,"d":173,"h":19.00},{"yr":1994,"d":183,"h":19.40},{"yr":1994,"d":193,"h":18.80},{"yr":1994,"d":203,"h":18.60},{"yr":1994,"d":213,"h":19.10},{"yr":1994,"d":223,"h":18.90},{"yr":1994,"d":233,"h":18.90},{"yr":1994,"d":243,"h":18.70},{"yr":1994,"d":253,"h":18.90},{"yr":1994,"d":263,"h":18.70},{"yr":1994,"d":273,"h":18.80},{"yr":1994,"d":284,"h":18.30}
],
"avg": [
{"d":0,"h":13.85},{"d":10,"h":13.72},{"d":20,"h":13.58},{"d":32,"h":13.45},{"d":44,"h":13.40},{"d":57,"h":13.38},{"d":68,"h":13.50},{"d":80,"h":13.74},{"d":90,"h":13.95},{"d":98,"h":14.24},{"d":105,"h":14.58},{"d":112,"h":14.88},{"d":121,"h":15.35},{"d":131,"h":15.90},{"d":139,"h":16.20},{"d":145,"h":16.37},{"d":150,"h":16.55},{"d":155,"h":17.10},{"d":161,"h":17.55},{"d":167,"h":17.95},{"d":174,"h":18.40},{"d":181,"h":18.70},{"d":188,"h":18.88},{"d":194,"h":18.86},{"d":200,"h":19.00},{"d":206,"h":19.07},{"d":213,"h":19.00},{"d":220,"h":18.78},{"d":227,"h":18.52},{"d":235,"h":18.66},{"d":242,"h":18.62},{"d":249,"h":18.45},{"d":257,"h":18.63},{"d":264,"h":18.30},{"d":271,"h":18.02},{"d":276,"h":17.80},{"d":283,"h":17.25},{"d":290,"h":16.72},{"d":297,"h":16.25},{"d":304,"h":15.90},{"d":317,"h":15.30},{"d":329,"h":14.75},{"d":340,"h":14.35},{"d":357,"h":13.88}
]
},
"layer": [
{"data": {"name": "years"},
 "mark": {"type": "line", "strokeWidth": 2.7},
 "encoding": {
  "x": {"field": "d", "type": "quantitative", "scale": {"domain": [0, 357], "nice": false, "zero": false},
   "axis": {"title": "Time (month)", "values": [0, 30.4167, 60.8333, 91.25, 121.6667, 152.0833, 182.5, 212.9167, 243.3333, 273.75, 304.1667, 334.5833],
    "labelExpr": "['Jan','Feb','Mar','Apr','May','Jun','Jul','Aug','Sep','Oct','Nov','Dec'][round(datum.value/30.4167)]",
    "labelAngle": -45, "labelAlign": "center", "labelBaseline": "middle", "labelPadding": 25, "labelOverlap": false, "titleY": 70, "titleBaseline": "alphabetic"}},
  "y": {"field": "h", "type": "quantitative", "scale": {"domain": [12.5, 20.98], "nice": false, "zero": false},
   "axis": {"title": "Water level (m)", "values": [13, 14, 15, 16, 17, 18, 19, 20], "labelPadding": 5, "titleX": -42, "titleY": 204, "titleAlign": "center", "titleBaseline": "alphabetic", "titleAngle": -90}},
  "detail": {"field": "yr", "type": "nominal"},
  "order": {"field": "d", "type": "quantitative"},
  "color": {"field": "yr", "type": "quantitative", "scale": {"scheme": "viridis", "domain": [1964, 1994]},
   "legend": {"orient": "none", "legendX": 999, "legendY": 10, "direction": "vertical", "title": null, "gradientLength": 398, "gradientThickness": 64,
    "values": [1964, 1967.3333, 1970.6667, 1974, 1977.3333, 1980.6667, 1984, 1987.3333, 1990.6667, 1994],
    "labelExpr": "floor(datum.value)", "labelFontSize": 14.5, "labelOffset": 9, "labelOverlap": false, "labelBaseline": "middle", "labelColor": "black",
    "gradientStrokeColor": "black", "gradientStrokeWidth": 1, "padding": 0}}
 }},
{"data": {"name": "avg"},
 "mark": {"type": "line", "strokeWidth": 4},
 "encoding": {
  "x": {"field": "d", "type": "quantitative"},
  "y": {"field": "h", "type": "quantitative"},
  "stroke": {"datum": "average water level", "type": "nominal", "scale": {"range": ["#ff0000"]},
   "legend": {"orient": "none", "legendX": 8, "legendY": 8, "title": null, "symbolType": "M-1,0H3", "symbolSize": 380, "symbolStrokeWidth": 4, "symbolFillColor": "transparent",
    "labelFontSize": 17.5, "labelOffset": 29, "labelLimit": 400, "labelColor": "black", "fillColor": "white", "strokeColor": "#cccccc", "cornerRadius": 3, "padding": 5}}
 }}
]
}
